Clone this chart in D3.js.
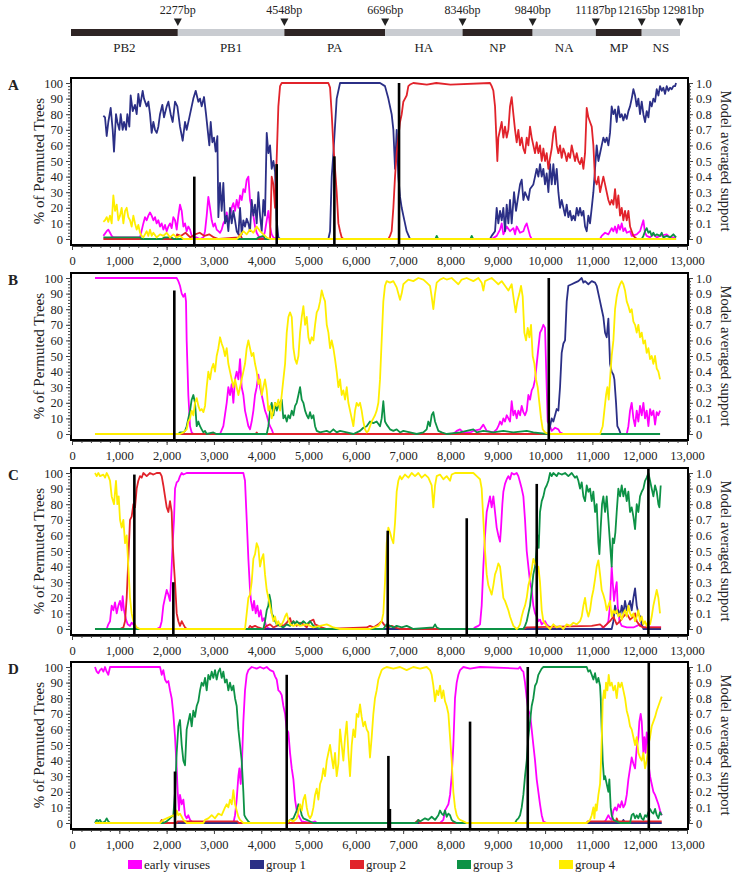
<!DOCTYPE html>
<html><head><meta charset="utf-8">
<script src="https://cdn.jsdelivr.net/npm/d3@7"></script>
<style>body{margin:0;background:#fff} text{font-family:"Liberation Serif","Times New Roman",serif;fill:#222}</style>
</head><body><svg id="c" width="737" height="875"></svg>
<script>
// ---------- DATA ----------
const genes = ["PB2","PB1","PA","HA","NP","NA","MP","NS"];
const geneEnds = [2277,4548,6696,8346,9840,11187,12165,12981];
const seriesNames = ["early viruses","group 1","group 2","group 3","group 4"];
const seriesColors = ["#ff00ff","#2b2f86","#e1232b","#0d9246","#ffee00"];
const xTicks = [0,1000,2000,3000,4000,5000,6000,7000,8000,9000,10000,11000,12000,13000];
const leftTicks = [0,10,20,30,40,50,60,70,80,90,100];
const rightTicks = [0,0.1,0.2,0.3,0.4,0.5,0.6,0.7,0.8,0.9,1.0];

const A_early=[[663,2],[733,5],[768,6],[804,4],[839,2],[874,1],[1438,1],[1508,10],[1543,14],[1579,12],[1614,15],[1649,17],[1684,15],[1720,12],[1755,14],[1790,10],[1825,12],[1861,8],[1896,10],[1931,6],[1966,9],[2002,5],[2037,8],[2072,10],[2107,7],[2142,14],[2178,12],[2213,6],[2248,15],[2283,22],[2319,18],[2354,8],[2389,10],[2424,5],[2459,8],[2495,6],[2530,2],[2565,1],[2636,1],[2706,0],[2777,1],[2812,5],[2847,15],[2882,27],[2918,20],[2953,12],[2988,8],[3023,10],[3058,6],[3094,5],[3129,4],[3164,6],[3199,10],[3235,12],[3270,17],[3305,10],[3340,15],[3376,20],[3411,23],[3446,18],[3481,25],[3517,20],[3552,28],[3587,25],[3622,32],[3657,30],[3693,38],[3728,40],[3763,25],[3798,20],[3834,15],[3869,8],[3904,4],[3939,2],[3975,1],[4045,1],[4080,5],[4116,12],[4151,18],[4186,8],[4221,3],[4257,1],[4327,0],[8871,0],[8977,2],[9048,6],[9083,10],[9118,3],[9153,5],[9189,8],[9259,5],[9330,7],[9365,3],[9400,8],[9471,4],[9541,5],[9576,8],[9612,10],[9647,6],[9682,2],[9717,0],[11162,0],[11197,2],[11268,4],[11338,3],[11408,7],[11444,5],[11479,8],[11514,4],[11549,9],[11585,6],[11620,10],[11655,5],[11690,7],[11726,4],[11796,5],[11831,2],[11937,3],[12007,5],[12078,12],[12113,4],[12148,2],[12219,1],[12289,3],[12360,1],[12430,2],[12571,3],[12642,1],[12769,1]];
const A_g1=[[663,79],[698,78],[733,66],[768,75],[818,84],[860,70],[888,56],[930,80],[959,75],[1001,70],[1029,80],[1071,70],[1100,75],[1142,70],[1170,80],[1212,72],[1240,92],[1283,82],[1332,86],[1367,80],[1402,93],[1438,85],[1494,95],[1522,90],[1579,85],[1614,88],[1649,80],[1684,68],[1720,75],[1755,70],[1790,68],[1825,72],[1861,80],[1910,86],[1945,78],[2002,85],[2037,88],[2086,80],[2128,75],[2178,88],[2227,85],[2283,72],[2340,63],[2389,75],[2424,70],[2481,78],[2530,85],[2565,90],[2615,95],[2671,88],[2706,90],[2741,85],[2791,91],[2833,80],[2868,70],[2903,60],[2932,75],[2967,62],[3002,65],[3037,56],[3073,66],[3094,14],[3129,36],[3164,18],[3199,36],[3235,10],[3270,15],[3305,5],[3340,20],[3376,10],[3411,18],[3446,12],[3481,5],[3517,3],[3552,20],[3587,3],[3622,12],[3657,8],[3693,13],[3728,10],[3763,5],[3798,25],[3834,15],[3869,22],[3904,10],[3939,30],[3975,15],[4010,5],[4045,25],[4080,15],[4116,68],[4151,55],[4186,60],[4221,45],[4257,50],[4292,43],[4327,12],[4362,1],[4398,0],[5419,0],[5455,5],[5490,40],[5525,55],[5595,90],[5666,100],[6511,100],[6616,98],[6687,90],[6757,80],[6793,70],[6828,45],[6863,70],[6898,40],[6934,27],[6969,20],[7004,15],[7039,10],[7074,5],[7131,1],[7145,0],[8836,0],[8871,2],[8942,5],[8977,20],[9012,10],[9048,18],[9083,12],[9118,20],[9153,5],[9189,22],[9224,10],[9259,25],[9294,10],[9344,30],[9386,18],[9435,28],[9471,35],[9506,38],[9541,25],[9576,30],[9647,25],[9682,32],[9752,35],[9788,40],[9823,45],[9858,40],[9893,48],[9929,40],[9964,45],[9999,35],[10034,42],[10070,30],[10105,48],[10140,35],[10175,48],[10211,35],[10246,45],[10281,30],[10316,20],[10351,25],[10387,20],[10422,15],[10457,22],[10492,14],[10528,18],[10563,12],[10598,15],[10633,12],[10669,20],[10704,15],[10739,20],[10774,15],[10810,18],[10845,8],[10880,5],[10915,15],[10950,10],[10986,20],[11021,30],[11056,45],[11091,60],[11127,50],[11162,55],[11197,60],[11232,65],[11268,62],[11303,65],[11338,60],[11373,68],[11408,85],[11444,80],[11479,83],[11514,75],[11549,85],[11585,78],[11620,80],[11655,76],[11690,80],[11726,77],[11761,82],[11796,85],[11831,90],[11867,96],[11902,92],[11937,85],[11972,90],[12007,80],[12043,88],[12078,80],[12113,75],[12148,82],[12184,78],[12219,88],[12254,85],[12289,90],[12325,88],[12360,96],[12395,92],[12430,98],[12466,95],[12501,97],[12536,93],[12571,98],[12607,95],[12642,97],[12677,96],[12712,98],[12748,98],[12769,100]];
const A_g2=[[663,0],[2200,0],[2220,3],[2300,2],[2400,4],[2500,1],[2600,3],[2700,4],[2800,2],[2900,3],[3000,1],[3100,0],[3520,1],[3550,3],[3600,0],[4186,0],[4221,40],[4257,35],[4292,20],[4327,52],[4362,85],[4398,98],[4433,100],[5419,100],[5455,97],[5490,80],[5525,60],[5560,45],[5595,30],[5631,10],[5666,5],[5701,1],[5736,0],[6687,0],[6722,2],[6757,5],[6793,20],[6828,40],[6863,55],[6898,65],[6934,75],[6969,80],[7004,88],[7039,90],[7074,92],[7110,98],[7145,99],[7215,100],[7500,99],[7700,100],[8000,99],[8836,100],[8871,98],[8907,95],[8942,85],[8977,60],[8991,50],[9012,65],[9048,70],[9083,75],[9118,65],[9153,72],[9189,65],[9224,70],[9259,85],[9294,91],[9330,80],[9365,70],[9400,62],[9435,70],[9471,60],[9506,65],[9541,58],[9576,55],[9612,65],[9647,60],[9682,72],[9717,65],[9752,60],[9788,55],[9823,62],[9858,55],[9893,60],[9929,50],[9964,58],[9999,50],[10034,55],[10070,45],[10105,52],[10140,58],[10175,68],[10211,72],[10246,60],[10281,55],[10316,60],[10351,52],[10387,58],[10422,55],[10457,50],[10492,55],[10528,52],[10563,60],[10598,55],[10633,50],[10669,55],[10704,50],[10739,48],[10774,52],[10810,45],[10845,55],[10880,84],[10915,78],[10950,75],[10986,72],[11021,60],[11056,38],[11091,35],[11127,40],[11162,30],[11197,35],[11232,40],[11268,35],[11303,30],[11338,25],[11373,22],[11408,25],[11444,22],[11479,32],[11514,20],[11549,28],[11585,15],[11620,20],[11655,12],[11690,18],[11726,12],[11761,18],[11796,8],[11831,5],[11867,2],[11937,0],[12769,0]];
const A_g3=[[663,1],[1438,1],[1480,0],[1900,0],[1950,1],[2100,1],[2150,0],[3900,0],[3940,1],[4050,2],[4080,0],[7680,0],[7709,2],[7740,0],[8420,0],[8449,2],[8480,0],[12043,0],[12078,2],[12113,5],[12148,7],[12184,4],[12219,5],[12254,2],[12289,4],[12325,2],[12360,3],[12430,2],[12466,4],[12501,1],[12571,2],[12642,1],[12712,3],[12769,1]];
const A_g4=[[663,11],[698,12],[733,14],[768,11],[804,15],[839,10],[874,28],[909,18],[945,22],[980,12],[1015,15],[1050,20],[1086,10],[1121,18],[1156,20],[1191,14],[1226,12],[1261,8],[1297,15],[1332,10],[1367,6],[1402,9],[1438,4],[1473,2],[1508,1],[1543,3],[1579,5],[1614,2],[1649,6],[1684,2],[1720,4],[1790,1],[1861,3],[1931,2],[2002,4],[2072,1],[2142,3],[2213,1],[2283,2],[2354,0],[3481,0],[3552,2],[3622,5],[3693,3],[3763,6],[3834,4],[3904,8],[3975,5],[4045,3],[4116,1],[4186,0],[12769,0]];
const A_breaks=[[2585,0.40],[4327,0.48],[5546,0.53],[6913,1.0]];

const B_early=[[486,100],[2213,100],[2248,98],[2283,95],[2319,90],[2354,88],[2389,90],[2410,85],[2424,60],[2459,25],[2495,5],[2530,1],[2565,0],[3129,0],[3199,5],[3270,20],[3305,30],[3340,25],[3376,32],[3411,20],[3446,35],[3481,40],[3517,35],[3552,48],[3587,30],[3622,25],[3657,15],[3693,10],[3728,5],[3763,3],[3798,8],[3834,15],[3869,25],[3904,30],[3939,38],[3975,30],[4010,25],[4045,20],[4080,15],[4116,12],[4151,8],[4186,5],[4221,3],[4257,0],[8061,0],[8132,2],[8202,3],[8273,1],[8414,1],[8484,2],[8625,3],[8695,6],[8766,2],[8907,1],[8977,3],[9012,5],[9048,8],[9083,6],[9118,10],[9153,8],[9189,12],[9224,10],[9259,8],[9294,21],[9330,12],[9365,15],[9400,10],[9435,15],[9471,12],[9506,18],[9541,14],[9576,12],[9612,15],[9647,25],[9682,22],[9717,28],[9752,30],[9788,35],[9823,45],[9858,55],[9893,65],[9929,67],[9964,70],[9999,68],[10034,30],[10055,8],[10105,5],[10140,2],[10211,4],[10281,3],[10316,1],[10387,0],[11726,0],[11761,5],[11796,15],[11831,20],[11867,10],[11902,5],[11937,15],[11972,8],[12007,18],[12043,12],[12078,20],[12113,10],[12148,15],[12184,5],[12219,16],[12254,12],[12289,15],[12325,6],[12360,14],[12395,12],[12430,15]];
const B_g1=[[486,0],[10070,0],[10105,5],[10140,10],[10175,8],[10211,12],[10246,16],[10281,15],[10316,30],[10351,52],[10387,58],[10422,60],[10457,85],[10492,95],[10563,96],[10633,97],[10704,98],[10774,100],[10810,97],[10845,98],[10915,96],[10986,98],[11056,97],[11091,95],[11162,85],[11197,80],[11232,75],[11268,65],[11303,62],[11338,74],[11373,45],[11408,40],[11444,38],[11465,35],[11500,20],[11528,5],[11563,3],[11599,0],[12430,0]];
const B_g2=[[486,0],[3880,0],[3904,1],[3930,0],[12430,0]];
const B_g3=[[486,0],[2248,0],[2283,1],[2354,1],[2389,2],[2424,5],[2459,10],[2495,15],[2530,22],[2565,25],[2600,20],[2636,5],[2671,8],[2706,5],[2741,3],[2777,1],[2812,2],[2847,0],[2988,1],[3050,0],[4116,0],[4151,5],[4186,15],[4221,20],[4257,12],[4292,20],[4327,15],[4362,18],[4398,20],[4433,22],[4468,10],[4504,12],[4539,8],[4574,12],[4609,10],[4645,15],[4680,12],[4715,18],[4750,20],[4786,25],[4821,30],[4856,22],[4891,20],[4927,15],[4962,12],[4997,10],[5032,14],[5067,10],[5103,12],[5138,5],[5173,2],[5244,1],[5385,2],[5455,1],[5525,3],[5595,1],[5666,2],[5807,1],[5948,0],[6088,2],[6158,4],[6229,5],[6299,8],[6370,7],[6440,8],[6511,5],[6546,10],[6581,21],[6616,8],[6652,6],[6722,3],[6793,2],[6863,3],[6934,1],[7004,2],[7145,1],[7286,0],[7427,1],[7497,3],[7532,8],[7568,5],[7603,12],[7638,14],[7674,8],[7709,5],[7744,2],[7815,1],[7920,0],[8202,1],[8343,2],[8484,3],[8555,1],[8695,2],[8907,1],[9118,2],[9330,1],[9612,2],[9752,1],[10034,0],[12430,0]];
const B_g4=[[486,0],[2283,0],[2354,1],[2424,3],[2459,8],[2495,10],[2530,15],[2565,12],[2600,20],[2636,23],[2671,18],[2706,15],[2741,16],[2777,14],[2812,18],[2847,30],[2882,40],[2918,35],[2953,42],[2988,45],[3023,40],[3058,50],[3094,55],[3129,62],[3164,58],[3199,55],[3235,50],[3270,55],[3305,45],[3340,40],[3376,35],[3411,30],[3446,35],[3481,30],[3517,25],[3552,30],[3587,35],[3622,40],[3657,45],[3693,55],[3728,60],[3763,55],[3798,50],[3834,52],[3869,45],[3904,40],[3939,32],[3975,35],[4010,25],[4045,30],[4080,35],[4116,28],[4151,15],[4186,18],[4221,10],[4257,15],[4292,20],[4327,18],[4362,22],[4398,15],[4433,25],[4468,35],[4504,45],[4539,65],[4574,75],[4609,78],[4645,75],[4680,55],[4715,48],[4750,45],[4786,50],[4821,65],[4856,75],[4891,82],[4927,70],[4962,75],[4997,62],[5032,58],[5067,62],[5103,60],[5138,70],[5173,78],[5208,80],[5244,85],[5279,92],[5314,88],[5349,85],[5385,70],[5420,65],[5455,55],[5490,60],[5525,55],[5560,48],[5595,40],[5631,30],[5666,35],[5701,25],[5736,28],[5772,22],[5807,30],[5842,20],[5877,15],[5913,10],[5948,5],[5983,15],[6018,20],[6053,18],[6088,20],[6123,15],[6158,8],[6194,3],[6229,1],[6264,2],[6299,5],[6335,8],[6370,10],[6405,12],[6440,15],[6476,20],[6511,35],[6546,60],[6581,85],[6616,95],[6652,98],[6722,97],[6793,98],[6863,94],[6898,90],[6934,86],[6969,90],[7004,96],[7039,97],[7110,99],[7215,98],[7321,100],[7427,99],[7497,97],[7568,95],[7603,88],[7638,80],[7674,90],[7709,97],[7779,99],[7850,100],[7920,99],[8026,100],[8096,98],[8167,96],[8237,99],[8343,100],[8484,98],[8590,100],[8660,97],[8695,92],[8731,98],[8801,99],[8871,100],[8942,98],[9012,96],[9083,98],[9153,95],[9224,92],[9294,96],[9344,85],[9379,78],[9414,85],[9457,90],[9492,95],[9527,88],[9562,65],[9597,60],[9633,68],[9668,62],[9703,70],[9738,50],[9774,45],[9809,35],[9844,30],[9879,20],[9915,10],[9950,3],[9999,1],[10070,0],[11162,0],[11218,5],[11253,15],[11289,25],[11317,30],[11345,22],[11373,35],[11408,50],[11444,60],[11479,80],[11514,88],[11549,93],[11585,96],[11620,98],[11655,96],[11690,92],[11726,85],[11761,82],[11796,78],[11831,80],[11867,72],[11902,70],[11937,65],[11972,70],[12007,62],[12043,65],[12078,58],[12113,60],[12148,52],[12184,55],[12219,48],[12254,50],[12289,45],[12325,50],[12360,42],[12395,40],[12430,35]];
const B_breaks=[[2163,0.92],[10078,1.0]];

const C_early=[[486,0],[733,0],[768,3],[804,5],[839,15],[874,12],[909,17],[945,10],[980,15],[1015,18],[1050,12],[1071,21],[1100,12],[1142,6],[1177,3],[1226,2],[1261,4],[1297,3],[1332,1],[1367,0],[1790,0],[1861,1],[1896,5],[1931,15],[1966,20],[2002,25],[2037,22],[2072,18],[2107,40],[2128,55],[2156,70],[2178,90],[2213,94],[2248,95],[2283,98],[2319,100],[2354,99],[2424,100],[3622,100],[3657,95],[3693,70],[3728,45],[3763,25],[3784,18],[3819,12],[3848,18],[3883,10],[3918,15],[3954,8],[3989,12],[4024,5],[4059,7],[4094,3],[4129,1],[4186,0],[8484,0],[8519,1],[8590,2],[8625,3],[8660,15],[8695,40],[8731,60],[8766,75],[8801,80],[8836,85],[8871,78],[8907,85],[8942,75],[8977,65],[9012,60],[9048,56],[9069,65],[9097,80],[9118,88],[9153,93],[9189,96],[9224,98],[9259,96],[9294,100],[9344,99],[9400,100],[9435,98],[9471,94],[9506,90],[9541,85],[9576,70],[9612,50],[9647,40],[9682,30],[9717,25],[9752,15],[9788,10],[9823,8],[9858,5],[9893,6],[9929,3],[9999,5],[10034,3],[10105,1],[10175,0],[11162,0],[11232,1],[11303,3],[11338,5],[11373,15],[11408,40],[11430,30],[11458,18],[11486,25],[11514,30],[11535,15],[11571,5],[11620,2],[11726,1],[11867,1],[12007,3],[12078,1],[12452,1]];
const C_g1=[[486,0],[11408,0],[11444,5],[11479,15],[11514,10],[11549,12],[11585,8],[11620,15],[11655,10],[11690,18],[11726,12],[11761,15],[11796,18],[11831,12],[11867,20],[11902,26],[11937,15],[11972,10],[12007,8],[12043,3],[12078,0],[12452,0]];
const C_g2=[[486,0],[1015,0],[1086,1],[1121,5],[1156,20],[1191,45],[1226,70],[1261,72],[1297,80],[1332,78],[1367,90],[1402,95],[1438,98],[1473,97],[1508,100],[1579,98],[1649,100],[1720,99],[1790,100],[1861,100],[1896,98],[1931,92],[1966,85],[2002,78],[2037,75],[2072,82],[2107,75],[2128,55],[2156,40],[2178,30],[2213,10],[2248,5],[2283,2],[2319,5],[2354,3],[2389,1],[2424,0],[3728,0],[3763,2],[3798,1],[3869,2],[3939,1],[4045,0],[4116,2],[4186,3],[4257,1],[4327,2],[4398,3],[4468,2],[4539,4],[4609,7],[4645,3],[4680,5],[4750,2],[4821,4],[4891,3],[4962,1],[5032,5],[5103,6],[5138,3],[5208,2],[5279,1],[5385,0],[6229,1],[6299,2],[6370,1],[6476,3],[6546,5],[6616,2],[6687,1],[6757,2],[6828,1],[6934,0],[9541,0],[9612,1],[10986,2],[11162,3],[11232,1],[11373,5],[11444,8],[11514,3],[11585,5],[11655,8],[11726,10],[11796,6],[11867,8],[11902,10],[11937,5],[12007,2],[12078,1],[12452,1]];
const C_g3=[[486,0],[4045,0],[4080,5],[4116,12],[4151,15],[4172,22],[4200,18],[4221,10],[4257,8],[4292,5],[4327,3],[4398,2],[4468,1],[4539,3],[4609,2],[4680,5],[4715,3],[4750,5],[4821,3],[4891,5],[4962,3],[5032,5],[5103,2],[5173,1],[5244,0],[6581,0],[6652,3],[6722,2],[6793,1],[6863,2],[6969,1],[7074,2],[7145,1],[7215,0],[7638,1],[7674,3],[7709,1],[7779,0],[9541,0],[9576,2],[9612,5],[9647,10],[9682,15],[9717,25],[9752,35],[9788,40],[9823,52],[9844,60],[9865,52],[9893,75],[9929,82],[9964,85],[9999,90],[10034,92],[10070,95],[10105,100],[10140,98],[10175,100],[10246,98],[10281,100],[10351,99],[10422,100],[10492,98],[10563,100],[10633,97],[10669,98],[10704,95],[10739,90],[10774,94],[10810,85],[10845,82],[10880,92],[10915,88],[10950,90],[10986,82],[11021,88],[11056,75],[11091,80],[11127,55],[11148,48],[11176,65],[11204,80],[11232,85],[11268,75],[11303,85],[11338,70],[11373,55],[11408,40],[11430,58],[11458,55],[11486,62],[11514,75],[11549,90],[11585,85],[11620,92],[11655,85],[11690,90],[11726,82],[11761,88],[11796,75],[11831,78],[11867,72],[11902,64],[11937,80],[11972,75],[12007,85],[12043,88],[12078,90],[12113,95],[12148,97],[12184,100],[12219,95],[12254,90],[12289,85],[12325,92],[12360,88],[12395,80],[12416,78],[12444,92]];
const C_g4=[[486,100],[522,98],[557,100],[592,98],[663,99],[698,97],[733,100],[768,98],[804,95],[839,85],[888,80],[930,95],[959,80],[987,85],[1015,70],[1050,65],[1086,70],[1121,55],[1156,60],[1191,40],[1226,20],[1261,10],[1297,5],[1332,3],[1367,1],[1438,0],[3657,0],[3693,10],[3728,20],[3763,22],[3798,30],[3834,45],[3869,48],[3904,55],[3939,52],[3975,40],[4010,45],[4045,48],[4080,35],[4116,25],[4151,20],[4186,15],[4221,10],[4257,5],[4292,8],[4327,3],[4362,5],[4398,2],[4433,3],[4468,5],[4504,8],[4539,10],[4574,6],[4609,3],[4680,2],[4750,3],[4821,2],[4962,3],[5103,1],[5244,2],[5385,3],[5455,2],[5525,1],[5666,0],[6299,0],[6476,2],[6546,5],[6581,10],[6616,30],[6652,55],[6687,65],[6722,62],[6757,58],[6793,55],[6828,68],[6863,88],[6898,95],[6934,98],[6969,96],[7039,99],[7110,97],[7180,100],[7251,98],[7321,100],[7392,97],[7462,99],[7532,97],[7603,92],[7638,78],[7674,92],[7709,98],[7779,99],[7850,96],[7920,98],[7991,95],[8026,99],[8096,100],[8484,100],[8555,98],[8625,96],[8660,90],[8695,70],[8731,50],[8766,35],[8801,28],[8836,25],[8871,22],[8907,28],[8942,35],[8977,38],[9012,42],[9048,40],[9083,30],[9118,20],[9153,18],[9189,15],[9224,12],[9259,8],[9294,5],[9330,2],[9365,1],[9400,0],[9435,1],[9471,3],[9506,8],[9541,12],[9576,15],[9612,20],[9647,28],[9682,32],[9717,38],[9752,45],[9788,42],[9823,40],[9858,40],[9893,30],[9929,12],[9964,5],[10034,2],[10105,0],[10175,3],[10246,1],[10316,2],[10387,0],[10457,3],[10528,2],[10598,4],[10669,3],[10739,5],[10774,8],[10810,15],[10845,20],[10880,12],[10915,8],[10950,12],[10986,20],[11021,25],[11056,32],[11091,40],[11127,44],[11162,35],[11197,25],[11232,22],[11268,18],[11303,12],[11338,15],[11373,18],[11408,8],[11444,12],[11479,10],[11514,12],[11549,8],[11585,10],[11620,6],[11655,10],[11690,12],[11726,8],[11761,15],[11796,10],[11831,8],[11867,10],[11902,5],[11937,8],[11972,12],[12007,5],[12043,8],[12078,3],[12113,5],[12148,2],[12184,5],[12219,3],[12254,8],[12289,15],[12325,20],[12360,25],[12395,20],[12430,10]];
const C_breaks=[[1318,0.99],[2142,0.30],[6674,0.63],[8344,0.71],[9824,0.93],[12184,1.035]];

const D_early=[[486,100],[522,97],[557,96],[592,98],[628,99],[663,97],[698,100],[733,97],[768,95],[804,100],[1861,100],[1896,95],[1931,98],[1966,92],[2002,90],[2037,91],[2072,85],[2107,80],[2142,70],[2178,55],[2213,35],[2234,20],[2262,8],[2283,18],[2319,12],[2354,15],[2389,5],[2424,3],[2459,5],[2495,2],[2530,1],[2565,0],[3411,0],[3446,5],[3481,15],[3517,30],[3538,35],[3566,25],[3594,40],[3622,65],[3657,85],[3693,95],[3728,98],[3798,100],[3904,99],[3975,100],[4045,99],[4116,100],[4186,98],[4257,97],[4292,94],[4327,92],[4362,85],[4398,84],[4433,82],[4468,75],[4504,70],[4539,60],[4574,58],[4609,45],[4645,35],[4680,28],[4715,15],[4750,8],[4786,5],[4821,3],[4856,1],[5032,0],[5138,1],[5173,0],[7779,0],[7850,2],[7885,8],[7920,10],[7956,12],[7991,18],[8026,30],[8061,50],[8096,80],[8132,90],[8167,95],[8202,98],[8273,100],[8414,99],[8625,100],[9435,99],[9471,100],[9506,98],[9541,97],[9576,90],[9612,80],[9647,72],[9682,70],[9717,60],[9752,50],[9788,40],[9823,28],[9858,20],[9893,12],[9929,5],[9964,1],[10034,0],[11162,0],[11268,1],[11303,3],[11338,5],[11373,3],[11408,2],[11444,8],[11479,10],[11514,8],[11549,12],[11585,10],[11620,14],[11655,10],[11690,12],[11726,18],[11761,28],[11796,35],[11831,42],[11867,38],[11902,35],[11937,48],[11972,55],[11993,65],[12021,70],[12043,65],[12078,45],[12099,55],[12127,45],[12148,58],[12170,55],[12198,35],[12219,30],[12254,25],[12289,20],[12325,18],[12360,15],[12395,12],[12430,8],[12466,5]];
const D_g1=[[486,0],[11620,0],[11655,2],[11690,0],[12466,0]];
const D_g2=[[486,0],[1861,0],[1896,2],[1931,0],[2213,0],[2230,1],[3500,1],[3520,0],[7250,0],[7321,2],[7357,0],[10880,0],[10900,1],[11500,1],[11514,3],[11540,1],[12466,1]];
const D_g3=[[486,0],[522,2],[557,1],[592,2],[628,0],[698,1],[733,3],[768,1],[804,0],[1931,0],[2002,1],[2072,3],[2142,5],[2178,20],[2213,45],[2248,62],[2283,66],[2319,50],[2354,40],[2389,37],[2424,60],[2459,65],[2495,70],[2530,62],[2565,72],[2600,68],[2636,75],[2671,78],[2706,85],[2741,90],[2777,88],[2812,93],[2847,85],[2882,95],[2918,92],[2953,97],[2988,93],[3023,98],[3058,92],[3094,97],[3129,99],[3164,93],[3199,97],[3235,90],[3270,92],[3305,85],[3340,90],[3376,85],[3411,88],[3446,80],[3481,75],[3517,60],[3552,50],[3587,40],[3622,20],[3643,5],[3678,3],[3728,1],[3763,0],[4539,0],[4609,2],[4680,3],[4750,8],[4786,12],[4821,10],[4856,5],[4891,3],[4962,2],[5032,1],[5103,0],[7286,0],[7321,2],[7357,1],[7462,3],[7532,2],[7603,4],[7674,2],[7744,5],[7779,8],[7815,6],[7850,5],[7885,8],[7920,4],[7956,6],[7991,5],[8026,2],[8061,1],[8132,0],[9365,0],[9400,2],[9435,3],[9471,5],[9506,10],[9541,18],[9576,30],[9612,40],[9647,55],[9682,65],[9717,75],[9752,80],[9788,88],[9823,90],[9858,95],[9893,97],[9929,99],[9964,100],[10880,100],[10915,97],[10950,98],[10986,95],[11021,92],[11056,96],[11091,90],[11127,93],[11162,88],[11176,80],[11197,60],[11218,40],[11246,28],[11268,30],[11303,25],[11338,20],[11359,28],[11387,10],[11408,5],[11444,2],[11514,1],[11585,0],[11796,0],[11831,5],[11867,6],[11902,3],[11937,5],[11972,3],[12007,6],[12043,3],[12078,2],[12113,5],[12148,4],[12184,7],[12219,9],[12254,7],[12289,6],[12325,9],[12360,5],[12395,3],[12430,7],[12466,5]];
const D_g4=[[486,0],[1861,0],[1931,2],[2002,3],[2072,4],[2142,5],[2178,3],[2213,8],[2248,5],[2283,6],[2319,4],[2354,2],[2424,0],[2777,0],[2812,2],[2882,3],[2953,5],[3023,3],[3094,6],[3164,5],[3235,10],[3270,12],[3305,10],[3340,15],[3376,12],[3411,21],[3446,12],[3481,8],[3517,4],[3552,2],[3587,1],[3622,0],[4539,0],[4609,2],[4680,1],[4750,3],[4821,12],[4856,8],[4891,15],[4927,18],[4962,10],[4997,5],[5032,3],[5067,5],[5103,10],[5138,18],[5173,22],[5208,15],[5244,25],[5279,28],[5314,35],[5349,30],[5385,40],[5420,45],[5455,50],[5490,42],[5525,35],[5560,45],[5595,30],[5631,38],[5666,60],[5701,50],[5736,40],[5772,55],[5807,65],[5842,45],[5877,30],[5913,50],[5948,60],[5983,55],[6018,70],[6053,68],[6088,76],[6123,68],[6158,62],[6194,65],[6229,60],[6264,58],[6299,42],[6335,55],[6370,70],[6405,80],[6440,85],[6476,92],[6511,95],[6546,98],[6581,99],[6652,100],[6793,99],[6934,100],[7074,98],[7215,100],[7357,99],[7497,100],[7568,98],[7603,95],[7638,88],[7674,78],[7709,85],[7744,82],[7779,88],[7815,80],[7850,85],[7885,78],[7920,75],[7956,70],[7991,55],[8026,40],[8061,20],[8096,10],[8132,5],[8167,3],[8202,2],[8273,1],[8343,0],[10880,0],[10950,2],[10986,5],[11021,10],[11042,3],[11070,12],[11091,8],[11127,18],[11162,25],[11183,40],[11204,60],[11218,78],[11246,85],[11268,80],[11289,90],[11317,85],[11345,95],[11373,88],[11408,90],[11444,85],[11479,88],[11514,80],[11549,90],[11585,87],[11620,90],[11655,85],[11690,80],[11726,72],[11761,68],[11796,62],[11831,60],[11867,55],[11902,50],[11937,55],[11972,45],[12007,42],[12043,40],[12078,45],[12113,35],[12148,40],[12184,50],[12219,55],[12254,62],[12289,65],[12325,68],[12360,72],[12395,75],[12430,78],[12466,81]];
const D_breaks=[[2177,0.33],[4539,0.95],[6688,0.43],[6720,0.09],[8414,0.65],[9634,1.0],[12192,1.035]];

// ---------- DRAW ----------
const svg = d3.select("#c");
const serif = '"Liberation Serif","Times New Roman",serif';

// genome bar
const gx = d3.scaleLinear().domain([0, 12981]).range([71, 680]);
const starts = [0].concat(geneEnds.slice(0, -1));
const gBar = svg.append("g");
gBar.selectAll("rect").data(genes).join("rect")
  .attr("x", (d,i)=>gx(starts[i])).attr("y", 29)
  .attr("width", (d,i)=>gx(geneEnds[i]) - gx(starts[i])).attr("height", 7)
  .attr("fill", (d,i)=> i%2===0 ? "#2e2424" : "#c9ccd1");
gBar.selectAll("text.gn").data(genes).join("text").attr("class","gn")
  .attr("x", (d,i)=>(gx(starts[i])+gx(geneEnds[i]))/2).attr("y", 52)
  .attr("text-anchor","middle").style("font-size","13px").text(d=>d);
gBar.selectAll("path.tri").data(geneEnds).join("path").attr("class","tri")
  .attr("d", d=>{const x=gx(d); return `M${x-4},18.5 L${x+4},18.5 L${x},26 Z`;})
  .attr("fill","#222");
// label nudges keep the last two tightly packed labels from colliding
const bpNudge = [0,0,0,0,0,0,-3,3];
gBar.selectAll("text.bp").data(geneEnds).join("text").attr("class","bp")
  .attr("x", (d,i)=>gx(d)+bpNudge[i]).attr("y", 14).attr("text-anchor","middle")
  .style("font-size","12px").text(d=>d+"bp");

// panels
const panels = [
  {label:"A", top:78,  series:[A_early,A_g1,A_g2,A_g3,A_g4], breaks:A_breaks},
  {label:"B", top:273, series:[B_early,B_g1,B_g2,B_g3,B_g4], breaks:B_breaks},
  {label:"C", top:468, series:[C_early,C_g1,C_g2,C_g3,C_g4], breaks:C_breaks},
  {label:"D", top:662, series:[D_early,D_g1,D_g2,D_g3,D_g4], breaks:D_breaks}
];
const x = d3.scaleLinear().domain([0,13000]).range([72,687]);
const FL = 71, FR = 688;

panels.forEach((p, pi) => {
  const t = p.top, bottom = t + 167;
  const y = d3.scaleLinear().domain([0,100]).range([t+161, t+5]);
  const yr = d3.scaleLinear().domain([0,1]).range([t+161, t+5]);
  const g = svg.append("g");
  const cid = "clip"+pi;
  g.append("clipPath").attr("id", cid).append("rect")
    .attr("x", FL).attr("y", t).attr("width", FR-FL).attr("height", bottom-t);

  const line = d3.line().x(d=>x(d[0])).y(d=>y(d[1]));
  const lg = g.append("g").attr("clip-path", `url(#${cid})`);
  p.series.forEach((s, si) => {
    lg.append("path").datum(s).attr("d", line)
      .attr("fill","none").attr("stroke", seriesColors[si])
      .attr("stroke-width", 1.8).attr("stroke-linejoin","round");
  });
  lg.selectAll("line.br").data(p.breaks).join("line").attr("class","br")
    .attr("x1", d=>x(d[0])).attr("x2", d=>x(d[0]))
    .attr("y1", bottom).attr("y2", d=>yr(d[1]))
    .attr("stroke","#000").attr("stroke-width",2.6);

  g.append("rect").attr("x",FL).attr("y",t).attr("width",FR-FL).attr("height",bottom-t)
    .attr("fill","none").attr("stroke","#000").attr("stroke-width",2);

  const la = g.append("g").attr("transform",`translate(${FL-1},0)`);
  la.call(d3.axisLeft(y).tickValues(leftTicks).tickSize(4).tickPadding(3).tickFormat(d3.format("d")));
  la.append("g").call(d3.axisLeft(y).tickValues(d3.range(0,101,2)).tickSize(2).tickFormat(""));
  const ra = g.append("g").attr("transform",`translate(${FR+1},0)`);
  ra.call(d3.axisRight(yr).tickValues(rightTicks).tickSize(4).tickPadding(3).tickFormat(d=> d===0 ? "0" : d3.format(".1f")(d)));
  ra.append("g").call(d3.axisRight(yr).tickValues(d3.range(0,1.001,0.02)).tickSize(2).tickFormat(""));
  const ba = g.append("g").attr("transform",`translate(0,${bottom+1})`);
  ba.call(d3.axisBottom(x).tickValues(xTicks).tickSize(4).tickPadding(6).tickFormat(d3.format(",")));
  ba.append("g").call(d3.axisBottom(x).tickValues(d3.range(0,13001,200)).tickSize(2).tickFormat(""));
  [la, ra, ba].forEach(a => {
    a.selectAll("path.domain").attr("stroke","#444");
    a.selectAll("line").attr("stroke","#444");
    a.selectAll("text").style("font-family", serif).style("font-size","12.5px").attr("fill","#222");
  });

  g.append("text").attr("transform",`translate(44,${t+83}) rotate(-90)`)
    .attr("text-anchor","middle").style("font-size","15px").text("% of Permuted Trees");
  g.append("text").attr("transform",`translate(721,${t+83}) rotate(90)`)
    .attr("text-anchor","middle").style("font-size","14.5px").text("Model averaged support");
  g.append("text").attr("x",8).attr("y",t+12).style("font-size","15px")
    .style("font-weight","bold").text(p.label);
});

// legend
const legX = [128, 250, 350, 457, 559];
const leg = svg.append("g");
seriesNames.forEach((n,i)=>{
  leg.append("rect").attr("x",legX[i]).attr("y",860).attr("width",14).attr("height",9)
    .attr("fill",seriesColors[i]);
  leg.append("text").attr("x",legX[i]+16).attr("y",869).style("font-size","13px").text(n);
});
</script></body></html>
